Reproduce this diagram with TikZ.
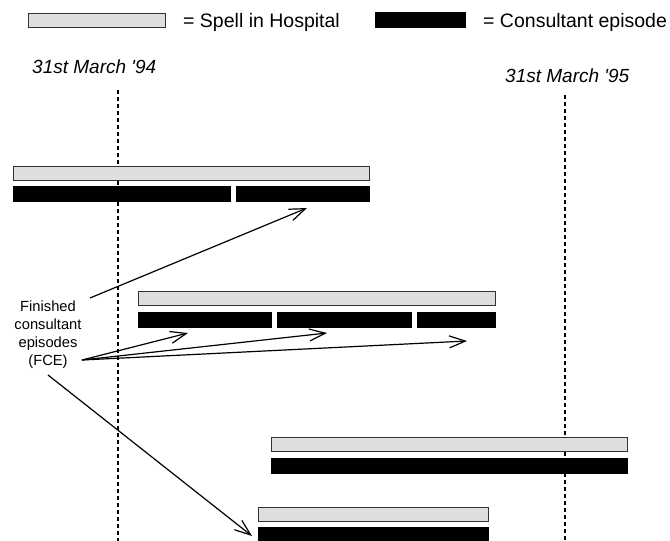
\documentclass[tikz,border=0pt]{standalone}
\usepackage{fontspec}
\setmainfont{Liberation Sans}
\usetikzlibrary{arrows.meta}

\begin{document}
\begin{tikzpicture}[x=1pt,y=-1pt,
    spell/.style ={draw=black!80, fill=black!13, line width=1pt, inner sep=0pt, anchor=north west, minimum height=14pt},
    episode/.style ={draw, fill=black, inner sep=0pt, anchor=north west, minimum height=15pt},
    dateline/.style ={line width=1.6pt, dash pattern=on 4pt off 3pt},
    pointer/.style ={line width=1.2pt, -{Straight Barb[length=16pt,width=12pt]}},
    keytext/.style ={anchor=west, inner sep=0pt, font=\fontsize{19.5}{23}\selectfont},
    datetext/.style ={anchor=west, inner sep=0pt, font=\fontsize{19}{23}\selectfont\itshape},
    fcetext/.style ={align=center, inner sep=0pt, font=\fontsize{14.7}{18}\selectfont}]
   \useasboundingbox (0,0) rectangle (670,541);

   % key
   \node[spell, minimum width=137pt] (keyspell) at (28,13) {};
   \node[keytext] (keyspelltext) at (183,22) {= Spell in Hospital};
   \node[episode, minimum width=90pt, minimum height=15pt] (keyepisode) at (375,12) {};
   \node[keytext] (keyepisodetext) at (483,22) {= Consultant episode};

   % year ends
   \node[datetext] (date94) at (32,67) {31st March \textquotesingle 94};
   \node[datetext] (date95) at (505,76) {31st March \textquotesingle 95};
   \coordinate (top94) at (118,90);
   \coordinate (bot94) at (118,541);
   \coordinate (top95) at (565,95);
   \coordinate (bot95) at (565,541);
   \draw[dateline] (top94) to (bot94);
   \draw[dateline] (top95) to (bot95);

   % spells and their episodes
   \node[spell, minimum width=356pt] (spellA) at (13,166) {};
   \node[episode, minimum width=217pt] (epA1) at (13,186) {};
   \node[episode, minimum width=133pt] (epA2) at (236,186) {};

   \node[spell, minimum width=357pt] (spellB) at (138,291) {};
   \node[episode, minimum width=133pt] (epB1) at (138,312) {};
   \node[episode, minimum width=134pt] (epB2) at (277,312) {};
   \node[episode, minimum width=78pt] (epB3) at (417,312) {};

   \node[spell, minimum width=356pt] (spellC) at (271,437) {};
   \node[episode, minimum width=356pt] (epC1) at (271,458) {};

   \node[spell, minimum width=230pt] (spellD) at (258,507) {};
   \node[episode, minimum width=230pt] (epD1) at (258,527) {};

   % label and pointers
   \node[fcetext] (fce) at (48,335) {Finished\\consultant\\episodes\\(FCE)};
   \coordinate (fceup) at (90,298);
   \coordinate (fcemid) at (82,360);
   \coordinate (fcelow) at (48,375);
   \coordinate (tipA) at (307,208);
   \coordinate (tipB1) at (188,333);
   \coordinate (tipB2) at (327,333);
   \coordinate (tipB3) at (467,341);
   \coordinate (tipD) at (252,536);

   \draw[pointer] (fceup) to (tipA);
   \draw[pointer] (fcemid) to (tipB1);
   \draw[pointer] (fcemid) to (tipB2);
   \draw[pointer] (fcemid) to (tipB3);
   \draw[pointer] (fcelow) to (tipD);
 \end{tikzpicture}
\end{document}
